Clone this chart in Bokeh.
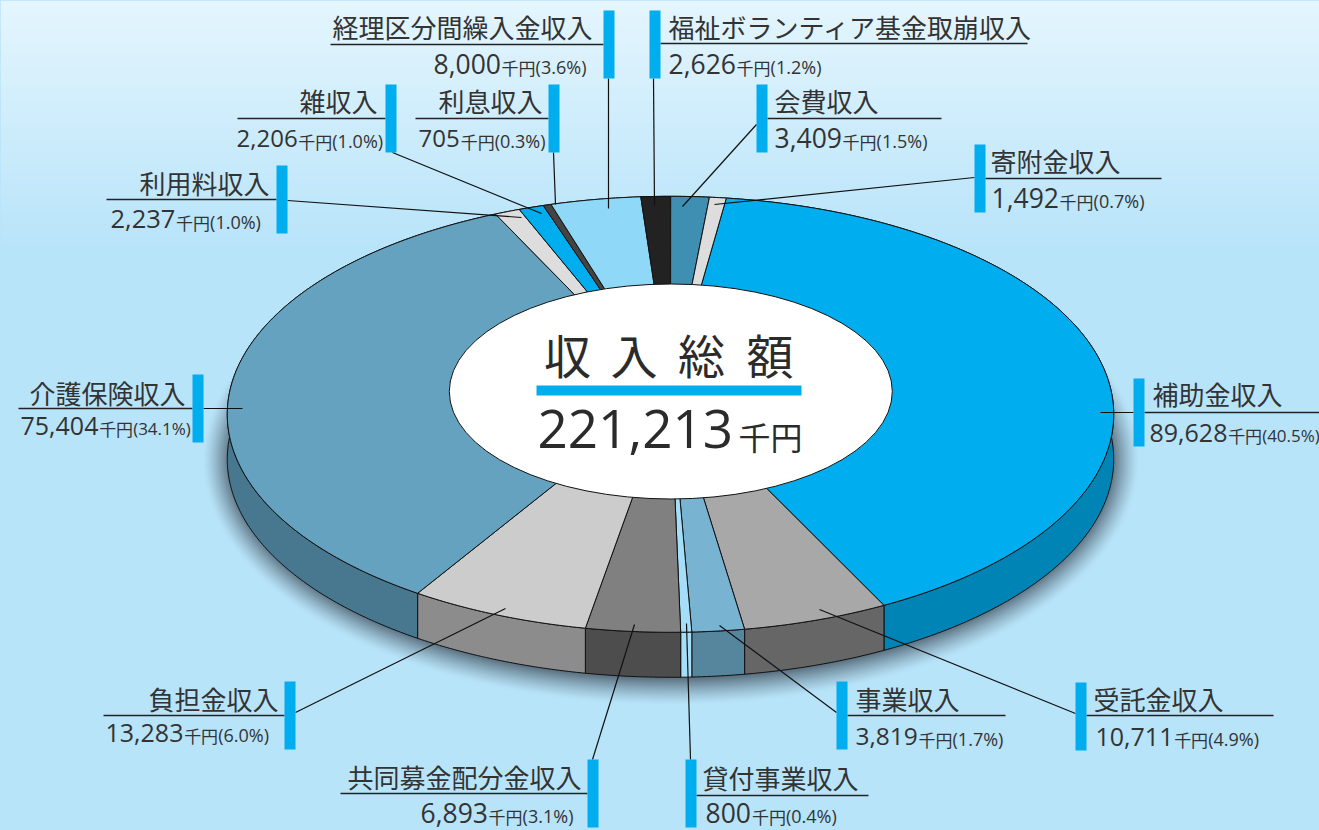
import numpy as np
from bokeh.plotting import figure
from bokeh.embed import file_html
from bokeh.resources import INLINE
from bokeh.core.properties import value as V

# ---- data (clockwise from the top of the pie)
names = ["補助金収入", "受託金収入", "事業収入", "貸付事業収入", "共同募金配分金収入", "負担金収入", "介護保険収入",
         "利用料収入", "雑収入", "利息収入", "経理区分間繰入金収入", "福祉ボランティア基金取崩収入", "会費収入", "寄附金収入"]
values = [89628, 10711, 3819, 800, 6893, 13283, 75404, 2237, 2206, 705, 8000, 2626, 3409, 1492]
pcts = ["40.5", "4.9", "1.7", "0.4", "3.1", "6.0", "34.1", "1.0", "1.0", "0.3", "3.6", "1.2", "1.5", "0.7"]
total = 221213
title_chars = ["収", "入", "総", "額"]
unit = "千円"

# ---- styles
top_cols = ["#00AEEF", "#A8A8A8", "#78B4D2", "#A5DEF8", "#808080", "#CCCCCC", "#64A2BF",
            "#DDDDDD", "#00AEEF", "#444444", "#8FD8F7", "#222222", "#3F8FB2", "#DDDDDD"]
wall_cols = ["#0084B5", "#666666", "#56859E", "#A5DEF8", "#4D4D4D", "#8C8C8C", "#47788F",
             "#999999", "#0084B5", "#333333", "#6AA5BD", "#111111", "#2F6D88", "#999999"]
num_sizes = [25, 25, 24.5, 26.5, 26.5, 25, 25, 25.5, 24, 24, 26.5, 26.5, 26.5, 26.5]
TXT = "#333333"
BAR = "#00AEEF"
CJK = "Noto Sans CJK JP"
NUM = "Open Sans"

W, H = 1319, 830
CX, CY, A, B, K, DEPTH = 670.0, 392.0, 441.0, 215.8, 0.1, 45.0
START = 8.0

p = figure(width=W, height=H, x_range=(0, W), y_range=(H, 0), output_backend="svg",
           toolbar_location=None, min_border=0, outline_line_color=None)
p.axis.visible = False
p.grid.visible = False
p.border_fill_color = "#B8E4FA"
p.background_fill_color = "#B8E4FA"

# background gradient + soft shadow
yy, xx = np.mgrid[0:H, 0:W].astype(float)
t = np.clip(yy / 250.0, 0, 1)
c0, c1 = np.array([229, 246, 254.0]), np.array([184, 228, 250.0])
rgb = c0[None, None, :] * (1 - t[..., None]) + c1[None, None, :] * t[..., None]
dx, dy = xx - 670, yy - 459
rx, ry = 468.0, 245.0
f = np.sqrt((dx / rx) ** 2 + (dy / ry) ** 2) + 1e-6
grad = np.sqrt((dx / rx ** 2) ** 2 + (dy / ry ** 2) ** 2) / f + 1e-9
dist = (f - 1) / grad
sa = np.clip(-dist / 28.0, 0, 1) ** 1.3 * 0.8
sc = np.array([62, 78, 92.0])
rgb = rgb * (1 - sa[..., None]) + sc[None, None, :] * sa[..., None]
img = np.zeros((H, W), dtype=np.uint32)
view = img.view(dtype=np.uint8).reshape((H, W, 4))
view[..., :3] = rgb.astype(np.uint8)
view[..., 3] = 255
p.image_rgba(image=[img], x=0, y=0, dw=W, dh=H)


def rim(theta_deg):
    th = np.radians(theta_deg)
    u, v = np.sin(th), np.cos(th)
    d = 1 + K * v
    return CX + A * u / d, CY - B * v / d


def put(x, y, s, font, size, color=TXT, align="left"):
    # the svg text sits centred on y, so lift it to put its baseline at y
    p.text(x=[x], y=[y - 0.4 * size], text=[s], text_font=V(font), text_font_size=f"{size}px",
           text_color=color, text_align=align, text_baseline="alphabetic")


fr = np.array(values, dtype=float) / sum(values)
edges = START + 360 * np.concatenate([[0], np.cumsum(fr)])

wx, wy, wc, tx, ty, tc = [], [], [], [], [], []
for i in range(len(values)):
    th = np.linspace(edges[i], edges[i + 1], max(6, int((edges[i + 1] - edges[i]) * 2)))
    x, y = rim(th)
    wx.append(np.concatenate([x, x[::-1]]))
    wy.append(np.concatenate([y, y[::-1] + DEPTH]))
    wc.append(wall_cols[i])
    tx.append(np.concatenate([[CX], x]))
    ty.append(np.concatenate([[CY], y]))
    tc.append(top_cols[i])
p.patches(wx, wy, fill_color=wc, line_color="#111111", line_width=1)
p.patches(tx, ty, fill_color=tc, line_color="#111111", line_width=1)

# centre
p.ellipse(x=[670.3], y=[391], width=[443], height=[215], fill_color="white", line_color="#111111", line_width=1)
p.quad(left=[536], right=[801], top=[385], bottom=[395], fill_color=BAR, line_color=None)
for cx_, ch in zip([567, 633.5, 701, 769.5], title_chars):
    put(cx_, 372, ch, CJK, 47, "#2b2b2b", "center")
put(537, 450, f"{total:,}", NUM, 53, "#2b2b2b")
put(738, 448, unit, CJK, 32, "#2b2b2b")

# ---- label layout, same order as names:
# bar x, bar top, rule x0,x1, rule y, name x, align, name baseline, value x, value baseline, leader
layout = [
    (1133, 378, 1144, 1319, 412, 1152, "left", 403, 1149, 442, (1100, 412, 1133, 412)),
    (1075, 682, 1086, 1273, 715, 1093, "left", 708, 1095, 746, (1075, 713, 819, 609)),
    (836, 681, 847, 1005, 715, 855, "left", 708, 855, 746, (836, 712, 719, 625)),
    (685, 759, 696, 868, 795, 702, "left", 787, 705, 823, (690, 759, 686, 623)),
    (587, 759, 340, 587, 793, 581, "right", 786, 420, 823, (592, 759, 634, 624)),
    (284, 681, 103, 284, 715, 278, "right", 708, 105, 742, (295, 712, 505, 608)),
    (192, 374, 18, 192, 408, 185, "right", 402, 20, 435, (203, 408, 242, 408)),
    (276, 165, 106, 276, 199, 269, "right", 192, 110, 229, (287, 200, 521, 217)),
    (385, 84, 237, 385, 118, 377, "right", 110, 236, 148, (392, 152, 541, 213)),
    (548, 84, 415, 548, 118, 542, "right", 110, 418, 148, (553, 152, 555, 204)),
    (603, 10, 330, 603, 44, 592, "right", 36, 433, 74, (608, 78, 608, 208)),
    (649, 10, 660, 1027, 43, 668, "left", 36, 668, 74, (653, 78, 654, 205)),
    (756, 84, 767, 941, 118, 774, "left", 110, 774, 148, (756, 124, 682, 206)),
    (974, 144, 985, 1161, 178, 990, "left", 170, 991, 208, (974, 177, 714, 204)),
]
BAR_W, BAR_H = 11, 68
UNIT_SZ = 17


def num_w(s, size):
    return sum(0.245 if c == "," else 0.572 for c in s) * size


for i, L in enumerate(layout):
    bx, by, r0, r1, ry_, nx, al, nb, vx, vb, (l0, l1, l2, l3) = L
    p.segment(x0=[l0], y0=[l1], x1=[l2], y1=[l3], line_color="#111111", line_width=1.2)
    p.segment(x0=[r0], y0=[ry_], x1=[r1], y1=[ry_], line_color="#222222", line_width=1.3)
    p.quad(left=[bx], right=[bx + BAR_W], top=[by], bottom=[by + BAR_H], fill_color=BAR, line_color=None)
    put(nx, nb, names[i], CJK, 26, TXT, al)
    s = f"{values[i]:,}"
    num_sz = num_sizes[i]
    pct_sz = 17 if len(pcts[i]) > 3 else 18
    put(vx, vb, s, NUM, num_sz)
    ux = vx + num_w(s, num_sz) + 1
    put(ux, vb, unit, CJK, UNIT_SZ)
    put(ux + 34, vb, f"({pcts[i]}%)", NUM, pct_sz)

html = file_html(p, INLINE)
html = html.replace("</head>", "<style>html,body{margin:0;padding:0;overflow:hidden;background:#B8E4FA}</style></head>", 1)
open("out.html", "w").write(html)
